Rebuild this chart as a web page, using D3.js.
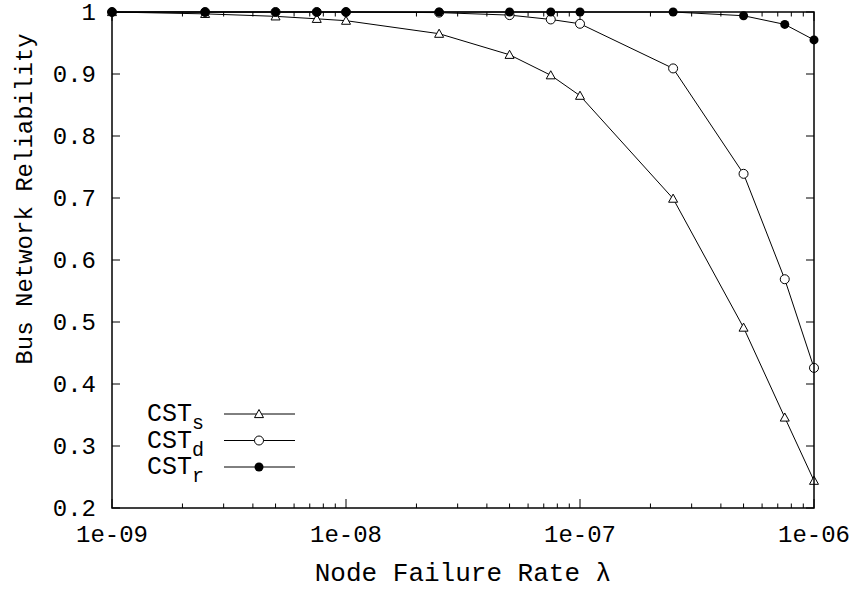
<!DOCTYPE html>
<html>
<head>
<meta charset="utf-8">
<script src="https://cdn.jsdelivr.net/npm/d3@7"></script>
<style>
  body { margin: 0; background: #fff; }
  text { font-family: "Liberation Mono", "DejaVu Sans Mono", monospace; fill: #000; }
</style>
</head>
<body>
<div id="chart"></div>
<script>
// failure rates (x) and reliability per topology
const rates = [1e-9, 2.5e-9, 5e-9, 7.5e-9, 1e-8, 2.5e-8, 5e-8, 7.5e-8, 1e-7, 2.5e-7, 5e-7, 7.5e-7, 1e-6];
const cstS = [1.0, 0.997, 0.993, 0.989, 0.986, 0.965, 0.931, 0.898, 0.865, 0.699, 0.491, 0.346, 0.244];
const cstD = [1.0, 1.0, 1.0, 1.0, 1.0, 0.999, 0.995, 0.988, 0.981, 0.909, 0.739, 0.569, 0.426];
const cstR = [1.0, 1.0, 1.0, 1.0, 1.0, 1.0, 1.0, 1.0, 1.0, 1.0, 0.994, 0.980, 0.955];
const xTicks = [1e-9, 1e-8, 1e-7, 1e-6];
const xTickLabels = ["1e-09", "1e-08", "1e-07", "1e-06"];
const yTicks = [0.2, 0.3, 0.4, 0.5, 0.6, 0.7, 0.8, 0.9, 1];
const series = [
  { name: "s", values: cstS, marker: "triangle" },
  { name: "d", values: cstD, marker: "circle" },
  { name: "r", values: cstR, marker: "dot" }
];

const width = 856, height = 592;
const margin = { top: 12, right: 42, bottom: 84, left: 112 };
const w = width - margin.left - margin.right,
  h = height - margin.top - margin.bottom;

const svg = d3.select("#chart").append("svg")
  .attr("width", width)
  .attr("height", height);
const g = svg.append("g")
  .attr("transform", "translate(" + margin.left + "," + margin.top + ")");

const x = d3.scaleLog().domain([1e-9, 1e-6]).range([0, w]);
const y = d3.scaleLinear().domain([0.2, 1]).range([h, 0]);

// minor ticks for log axis
let minor = [];
for (let e = -9; e < -6; e++) {
  for (let m = 2; m <= 9; m++) minor.push(m * Math.pow(10, e));
}

const tickG = g.append("g").attr("stroke", "#000").attr("stroke-width", 1);
xTicks.forEach(t => {
  tickG.append("line").attr("x1", x(t)).attr("x2", x(t)).attr("y1", h).attr("y2", h - 9);
  tickG.append("line").attr("x1", x(t)).attr("x2", x(t)).attr("y1", 0).attr("y2", 9);
});
minor.forEach(t => {
  tickG.append("line").attr("x1", x(t)).attr("x2", x(t)).attr("y1", h).attr("y2", h - 4.5);
  tickG.append("line").attr("x1", x(t)).attr("x2", x(t)).attr("y1", 0).attr("y2", 4.5);
});
yTicks.forEach(t => {
  tickG.append("line").attr("x1", 0).attr("x2", 8).attr("y1", y(t)).attr("y2", y(t));
  tickG.append("line").attr("x1", w).attr("x2", w - 8).attr("y1", y(t)).attr("y2", y(t));
});

// tick labels
g.selectAll(".xl").data(xTicks).enter().append("text")
  .attr("x", d => x(d)).attr("y", h + 34)
  .attr("text-anchor", "middle").attr("font-size", 24)
  .text((d, i) => xTickLabels[i]);
g.selectAll(".yl").data(yTicks).enter().append("text")
  .attr("x", -16).attr("y", d => y(d)).attr("dy", "0.32em")
  .attr("text-anchor", "end").attr("font-size", 24)
  .text(d => d === 1 ? "1" : d.toFixed(1));

// axis titles
svg.append("text")
  .attr("x", 463).attr("y", 581)
  .attr("text-anchor", "middle").attr("font-size", 26)
  .text("Node Failure Rate λ");
svg.append("text")
  .attr("transform", "translate(32,199) rotate(-90)")
  .attr("text-anchor", "middle").attr("font-size", 24)
  .text("Bus Network Reliability");

// lines
const line = d3.line().x((d, i) => x(rates[i])).y(d => y(d));
series.forEach(s => {
  g.append("path").datum(s.values)
    .attr("d", line).attr("fill", "none")
    .attr("stroke", "#000").attr("stroke-width", 1);
});

function drawMarker(sel, type, cx, cy) {
  if (type === "triangle") {
    const r = 4.5;
    sel.append("path")
      .attr("d", "M" + cx + "," + (cy - r) + "L" + (cx + r) + "," + (cy + r * 0.8) + "L" + (cx - r) + "," + (cy + r * 0.8) + "Z")
      .attr("fill", "#fff").attr("stroke", "#000").attr("stroke-width", 1);
  } else if (type === "circle") {
    sel.append("circle").attr("cx", cx).attr("cy", cy).attr("r", 4.5)
      .attr("fill", "#fff").attr("stroke", "#000").attr("stroke-width", 1);
  } else {
    sel.append("circle").attr("cx", cx).attr("cy", cy).attr("r", 4.5)
      .attr("fill", "#000");
  }
}

series.forEach(s => {
  const mg = g.append("g");
  s.values.forEach((v, i) => drawMarker(mg, s.marker, x(rates[i]), y(v)));
});

// frame
g.append("rect").attr("width", w).attr("height", h)
  .attr("fill", "none").attr("stroke", "#000").attr("stroke-width", 1.5);

// legend
const leg = svg.append("g");
series.forEach((s, i) => {
  const ly = 414 + i * 26.5;
  const t = leg.append("text").attr("x", 147).attr("y", ly + 7).attr("font-size", 25);
  t.append("tspan").text("CST");
  t.append("tspan").attr("font-size", 20).attr("dy", 8).text(s.name);
  leg.append("line").attr("x1", 224).attr("x2", 295).attr("y1", ly).attr("y2", ly)
    .attr("stroke", "#000").attr("stroke-width", 1);
  drawMarker(leg, s.marker, 259, ly);
});
</script>
</body>
</html>
